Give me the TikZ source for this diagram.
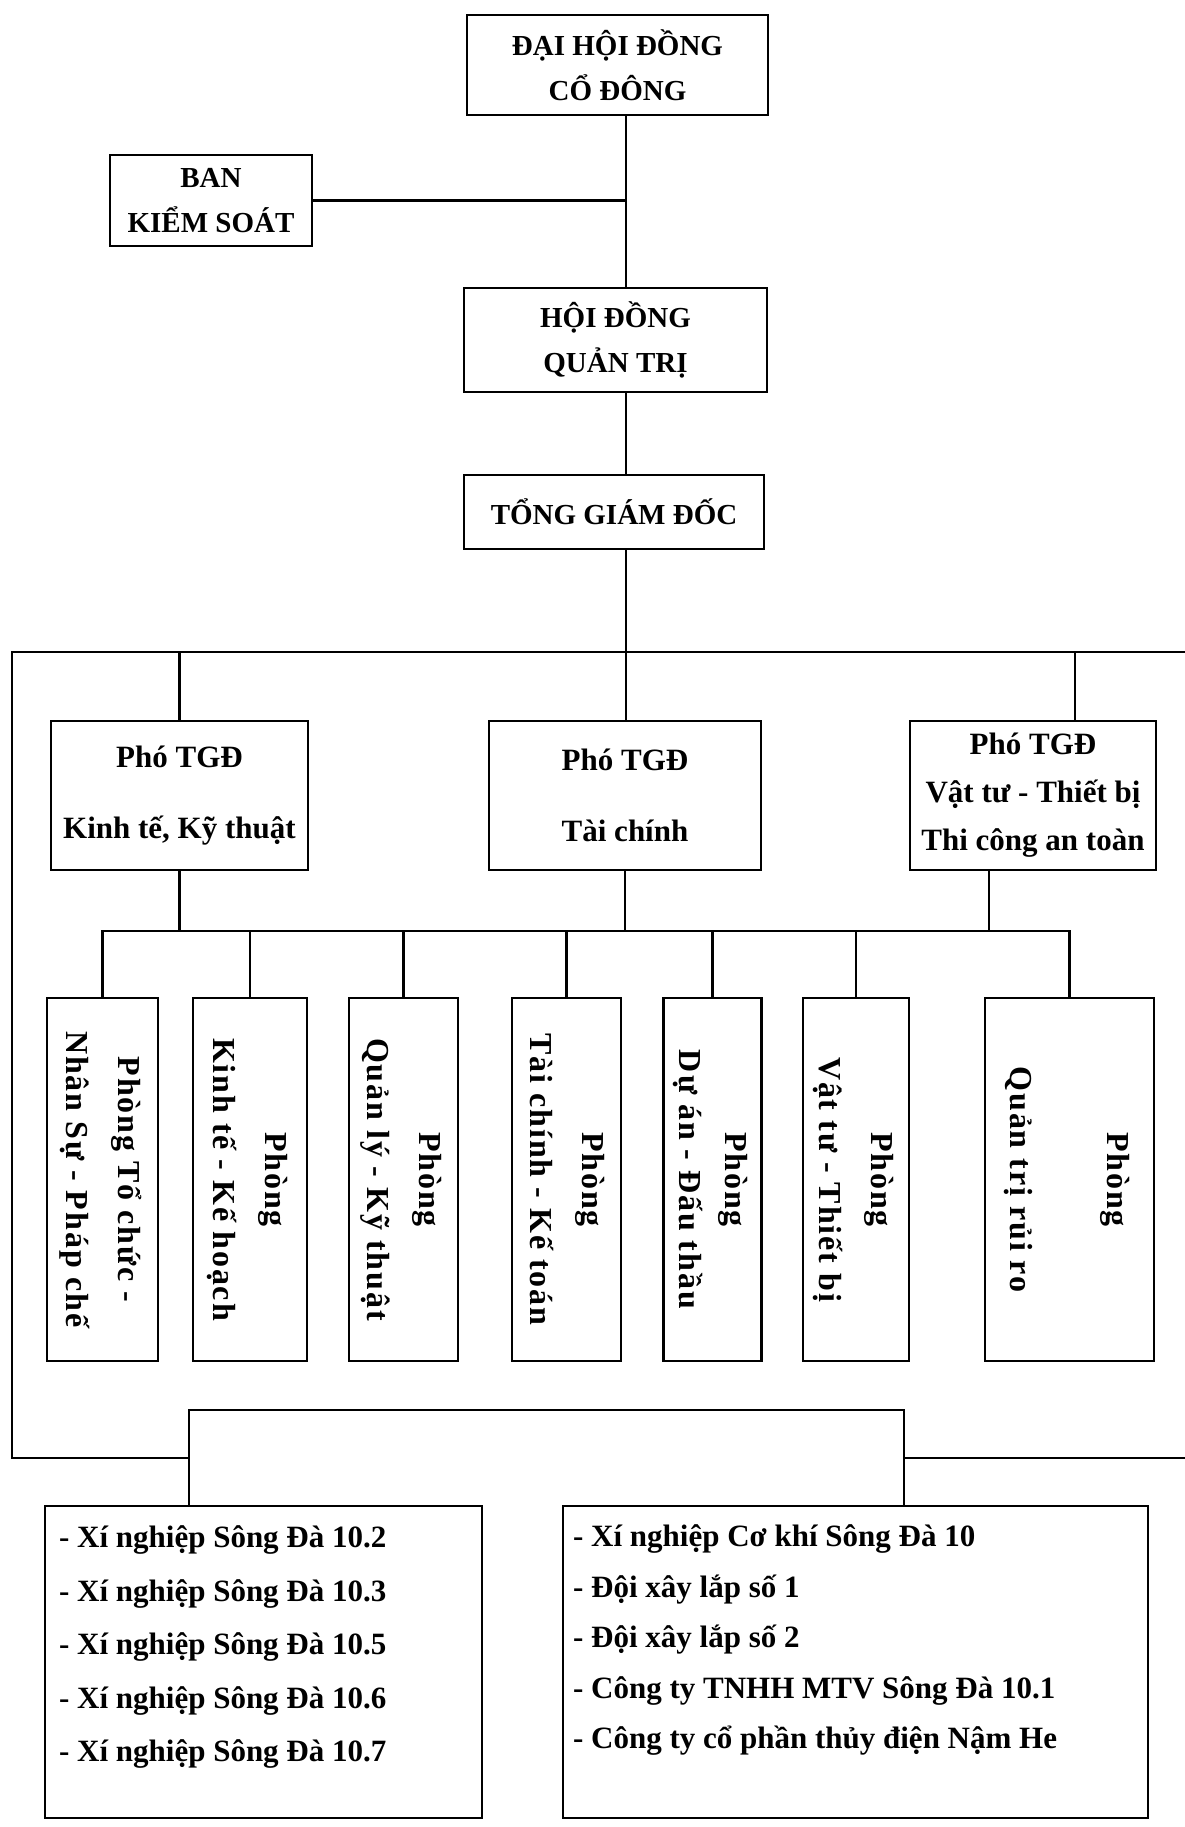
\documentclass[tikz,border=0pt]{standalone}
\usepackage{fontspec}
\setmainfont{Liberation Serif}
\newfontfamily\phongfont[LetterSpace=6]{Liberation Serif}
\usetikzlibrary{positioning,calc}

% vertical label of a department box: first line right, second line left
\newcommand{\vlabel}[3]{\rotatebox{-90}{\phongfont\bfseries\fontsize{32}{52}\selectfont
  \begin{tabular}{@{}c@{}}#1\\[#3]#2\end{tabular}}}

\tikzset{
  box/.style={draw, line width=2.2pt, inner sep=0pt, align=center,
    font=\bfseries\fontsize{29}{45}\selectfont},
  phobox/.style={box, minimum height=149pt, font=\bfseries\fontsize{31}{48}\selectfont},
  phongbox/.style={draw, line width=2.2pt, inner sep=0pt, minimum height=363pt},
  listbox/.style={draw, line width=2.2pt, inner sep=0pt, minimum height=312pt},
  listtext/.style={inner sep=0pt, align=left, anchor=north west},
  link/.style={line width=2.2pt},
}

\begin{document}
\begin{tikzpicture}[x=1pt, y=-1pt] % one unit = one pixel of the reference, y downwards
\useasboundingbox (0,0) rectangle (1184,1827);

% Top of the company
\node[box, minimum width=301pt, minimum height=100pt] (dhdcd) at (617.5,65) {ĐẠI HỘI ĐỒNG\\CỔ ĐÔNG};
\node[box, minimum width=202pt, minimum height=91pt] (bks) at (211,200.5) {BAN\\KIỂM SOÁT};
\node[box, minimum width=303pt, minimum height=104pt] (hdqt) at (615.5,340) {HỘI ĐỒNG\\QUẢN TRỊ};
\node[box, minimum width=300pt, minimum height=74pt] (tgd) at (614,512) {TỔNG GIÁM ĐỐC};

% Deputies
\node[phobox, minimum width=257pt] (pho1) at (179.5,795.5) {Phó TGĐ\\[23pt]Kinh tế, Kỹ thuật};
\node[phobox, minimum width=272pt] (pho2) at (625,795.5) {Phó TGĐ\\[23pt]Tài chính};
\node[phobox, minimum width=246pt] (pho3) at (1033,795.5) {Phó TGĐ\\Vật tư - Thiết bị\\Thi công an toàn};

% Departments (text turned clockwise)
\foreach \i/\x/\w/\ta/\tb/\gap in {
  1/102.5/111/Phòng Tổ chức -/Nhân Sự - Pháp chế/0pt,
  2/250/114/Phòng/Kinh tế - Kế hoạch/0pt,
  3/403.5/109/Phòng/Quản lý - Kỹ thuật/0pt,
  4/566.5/109/Phòng/Tài chính - Kế toán/0pt,
  5/712.5/97/Phòng/Dự án - Đấu thầu/-6pt,
  6/856/106/Phòng/Vật tư - Thiết bị/0pt,
  7/1069.5/169/Phòng/Quản trị rủi ro/45pt} {
  \node[phongbox, minimum width=\w pt] (p\i) at (\x,1179.5) {\vlabel{\ta}{\tb}{\gap}};
}

% Units below
\node[listbox, minimum width=437pt] (xn1) at (263.5,1662) {};
\node[listbox, minimum width=585pt] (xn2) at (855.5,1662) {};
\node[listtext, font=\bfseries\fontsize{31}{53.5}\selectfont] (xn1txt)
  at ([xshift=15pt,yshift=-21pt]xn1.north west)
  {- Xí nghiệp Sông Đà 10.2\\- Xí nghiệp Sông Đà 10.3\\- Xí nghiệp Sông Đà 10.5\\- Xí nghiệp Sông Đà 10.6\\- Xí nghiệp Sông Đà 10.7};
\node[listtext, font=\bfseries\fontsize{31}{50.5}\selectfont] (xn2txt)
  at ([xshift=11pt,yshift=-20pt]xn2.north west)
  {- Xí nghiệp Cơ khí Sông Đà 10\\- Đội xây lắp số 1\\- Đội xây lắp số 2\\- Công ty TNHH MTV Sông Đà 10.1\\- Công ty cổ phần thủy điện Nậm He};

% Helper coordinates
\coordinate (trunk) at (626,0);
\coordinate (bus) at (0,931);
\coordinate (ftl) at (12,652);
\coordinate (ftr) at (1190,652);
\coordinate (fbl) at (12,1458);
\coordinate (fbr) at (1190,1458);
\coordinate (brl) at (189,1410);
\coordinate (brr) at (904,1410);

% Main line
\draw[link] (dhdcd.south -| trunk) -- (hdqt.north -| trunk);
\draw[link] (bks.east) -- (bks.east -| trunk);
\draw[link] (hdqt.south -| trunk) -- (tgd.north -| trunk);
\draw[link] (tgd.south -| trunk) -- (pho2.north -| trunk);

% Frame round deputies and departments
\draw[link] (ftr) -- (ftl) -- (fbl) -- (fbl -| brl) -- (brl) -- (brr) -- (fbr -| brr) -- (fbr);
\draw[link] (brl) -- (brl |- xn1.north);
\draw[link] (brr) -- (brr |- xn2.north);

% Deputies to frame and bus
\draw[link] (pho1.north) -- (pho1.north |- ftl);
\draw[link] ([xshift=42pt]pho3.north) -- ([xshift=42pt]pho3.north |- ftl);
\draw[link] (pho1.south) -- (pho1.south |- bus);
\draw[link] (pho2.south) -- (pho2.south |- bus);
\draw[link] ([xshift=-44pt]pho3.south) -- ([xshift=-44pt]pho3.south |- bus);

% Bus to departments
\draw[link] (p1.north) -- (p1.north |- bus) -- (p7.north |- bus) -- (p7.north);
\foreach \i in {2,...,6} {
  \draw[link] (p\i.north) -- (p\i.north |- bus);
}
\end{tikzpicture}
\end{document}
